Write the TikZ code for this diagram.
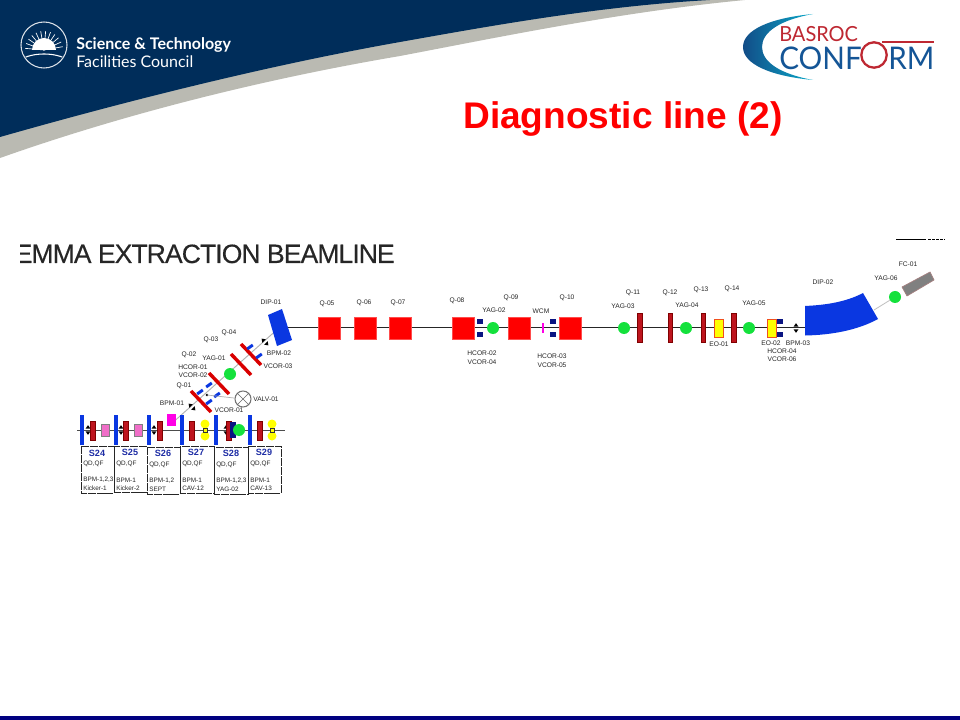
\documentclass[tikz,border=0pt]{standalone}
\usepackage{fontspec}
\setmainfont{Liberation Sans}
\newfontfamily\logofont{Lato}
\newfontfamily\headfont[LetterSpace=-3.5,FakeBold=0.25]{Liberation Sans}
\definecolor{stfcnavy}{RGB}{0,45,90}
\definecolor{footnavy}{RGB}{0,0,128}
\definecolor{stfcgrey}{RGB}{186,186,178}
\definecolor{lensred}{RGB}{190,20,30}
\definecolor{kickblue}{RGB}{10,55,225}
\definecolor{corrnavy}{RGB}{10,20,130}
\definecolor{sblue}{RGB}{30,45,165}
\definecolor{yaggreen}{RGB}{20,225,60}
\definecolor{confblue}{RGB}{20,85,150}
\definecolor{confred}{RGB}{190,40,50}
\definecolor{flagpink}{RGB}{255,0,230}
\definecolor{kickpink}{RGB}{240,110,200}
\definecolor{eoyellow}{RGB}{255,255,0}
\definecolor{eoorange}{RGB}{240,80,30}
\tikzset{
	tag/.style={inner sep=0pt,font=\fontsize{5pt}{5.5pt}\selectfont,text=black!85},
	cell/.style={anchor=west,inner sep=0pt,font=\fontsize{4.8pt}{5pt}\selectfont,text=black!85},
	sname/.style={inner sep=0pt,font=\bfseries\fontsize{6.8pt}{8pt}\selectfont,text=sblue},
	quadbox/.style={fill=red,draw=red!70!white,line width=0.3pt},
	bar/.style={fill=lensred,draw=red!50!black,line width=0.3pt},
	sbend/.style={fill=kickblue,draw=none},
	yag/.style={circle,fill=yaggreen,draw=none,minimum size=9pt,inner sep=0pt},
	lens/.style={line width=2.6pt,draw=red!85!black},
	coil/.style={line width=2.2pt,draw=kickblue},
	beam/.style={line width=0.7pt,draw=black!85},
	eobox/.style={fill=eoyellow,draw=eoorange,line width=0.7pt},
	sbox/.style={draw=black!85,line width=0.6pt,dash pattern=on 6pt off 0.7pt},
}
\newcommand{\bpmpair}[3]{
	\begin{scope}[shift={(#1,#2)},rotate=#3]
	\fill[black] (-2.5,-1.3) -- (2.5,-1.3) -- (0,-4.8) -- cycle;
	\fill[black] (-2.5,1.3) -- (2.5,1.3) -- (0,4.8) -- cycle;
	\end{scope}
}
\begin{document}
\begin{tikzpicture}[x=0.75pt,y=0.75pt,yscale=-1,xscale=1]
	\useasboundingbox (0,0) rectangle (960,720);
	\fill[white] (0,0) rectangle (960,720);
	% header swoosh
	\fill[stfcgrey] (0,158) .. controls (130,112) and (270,78) .. (400,56) .. controls (500,37) and (620,12) .. (745,0) -- (0,0) -- cycle;
	\fill[stfcnavy] (0,137) .. controls (130,100) and (270,65) .. (400,42) .. controls (490,26) and (600,6) .. (710,0) -- (0,0) -- cycle;
	\fill[footnavy] (0,716) rectangle (960,720);
	% stfc logo
	\draw[white!85!stfcnavy,line width=0.8pt] (44,45) circle (23);
	\begin{scope}
	\clip (44,45) circle (22);
	\foreach \ang in {-85,-70,...,85} \draw[white,line width=0.5pt] (44,50) -- ++(\ang-90:19);
	\fill[white] (32,50) arc (180:360:12) -- cycle;
	\fill[stfcnavy] (18,52) rectangle (70,54);
	\draw[white,line width=0.8pt] (20,60) .. controls (32,52) and (56,52) .. (68,60);
	\end{scope}
	\node[anchor=west,inner sep=0pt,text=white] (stfcone) at (76,45) {\logofont\bfseries\fontsize{12pt}{14pt}\selectfont Science \& Technology};
	\node[anchor=west,inner sep=0pt,text=white] (stfctwo) at (76,62) {\logofont\fontsize{12pt}{14pt}\selectfont Facilities Council};
	% conform logo
	\shade[left color=confblue!90!black,right color=confblue!50!cyan] (813,14) .. controls (770,18) and (743,30) .. (743,47) .. controls (743,64) and (770,76) .. (813,80) .. controls (780,74) and (762,62) .. (762,47) .. controls (762,32) and (780,20) .. (813,14) -- cycle;
	\node[anchor=base west,inner sep=0pt,text=confred,xscale=0.96] (basroc) at (779,42) {\logofont\fontsize{15.6pt}{17pt}\selectfont BASROC};
	\node[anchor=base west,inner sep=0pt,text=confblue,xscale=0.95] (conf) at (779,70) {\logofont\fontsize{23.4pt}{25pt}\selectfont CONF};
	\node[anchor=base west,inner sep=0pt,text=confblue,xscale=0.95] (rm) at (888,70) {\logofont\fontsize{23.4pt}{25pt}\selectfont RM};
	\draw[confred,line width=1.7pt] (874,55) circle (12.7);
	\draw[confred,line width=1.5pt] (882,42) -- (934,42);
	% titles
	\node[anchor=base west,inner sep=0pt,text=red] (title) at (463,129) {\bfseries\fontsize{27.8pt}{30pt}\selectfont Diagnostic line (2)};
	\begin{scope}
	\clip (20,230) rectangle (420,280);
	\node[anchor=base east,inner sep=0pt,text=black!85] (beamtitle) at (395,263) {\headfont\fontsize{19.9pt}{22pt}\selectfont EMMA EXTRACTION BEAMLINE};
	\end{scope}
	% scale mark
	\draw[black,line width=0.6pt] (896,239) -- (926,239);
	\draw[black,line width=0.6pt,dash pattern=on 2pt off 1pt] (928,239) -- (945,239);
	% beam lines
	\coordinate (lowstart) at (77,430);
	\coordinate (lowend) at (285,430);
	\coordinate (diagstart) at (170,425);
	\coordinate (diagend) at (280,327);
	\coordinate (mainstart) at (280,327);
	\coordinate (mainend) at (810,327);
	\draw[beam,draw=black!70] (lowstart) -- (lowend);
	\draw[draw=black!30,line width=0.7pt] (diagstart) -- (diagend);
	\draw[beam] (mainstart) -- (mainend);
	% sector row
	\foreach \xa/\xb/\ya/\yb/\nm/\tx/\sy/\lna/\lnb in {
		81/114/446/493/S24/97/453/{BPM-1,2,3}/Kicker-1,
		114/147/446/492/S25/130/452/BPM-1/Kicker-2,
		147/180/447/494/S26/163/453/{BPM-1,2}/SEPT,
		180/214/446/493/S27/196/452/BPM-1/CAV-12,
		214/248/447/494/S28/231/453/{BPM-1,2,3}/YAG-02,
		248/281/446/493/S29/264/452/BPM-1/CAV-13}{
		\draw[sbox] (\xa,\ya) rectangle (\xb,\yb);
		\node[sname] (\nm) at (\tx,\sy) {\nm};
		\node[cell] (\nm qd) at (\xa+2,\ya+18) {QD,QF};
		\node[cell] (\nm bpm) at (\xa+2,\ya+34) {\lna};
		\node[cell] (\nm dev) at (\xa+2,\ya+42) {\lnb};
	}
	\foreach \xa in {82,116,149,182,216,250} \fill[sbend] (\xa-2,415) rectangle (\xa+2,445);
	\foreach \xa in {88,121,154,226} \bpmpair{\xa}{430}{0}
	\foreach \xa in {93,126,160,192,229,260} \filldraw[bar] (\xa-2.4,421) rectangle (\xa+2.4,440);
	\foreach \xa in {101,134} \filldraw[fill=kickpink,draw=black!50,line width=0.4pt] (\xa,424) rectangle (\xa+8,436);
	\foreach \xa in {205,272} {
		\fill[eoyellow] (\xa,424) circle (4.5);
		\fill[eoyellow] (\xa,436) circle (4.5);
		\filldraw[fill=eoyellow,draw=black!80,line width=0.5pt] (\xa-2,428) rectangle (\xa+2,432);
	}
	\fill[flagpink] (167,414) rectangle (176,426);
	\fill[corrnavy] (230,422) rectangle (236,438);
	\node[yag] (yagtwo) at (239,430) {};
	% diagonal section
	\draw[lens] (191,391) -- (211,412);
	\draw[lens] (209,373) -- (229,394);
	\draw[lens] (231,354) -- (251,375);
	\draw[lens] (241,344) -- (261,365);
	\foreach \xa/\ya in {200/392,209/385,209/402,217/395,250/347,259/356} \draw[coil] (\xa-2.8,\ya+2) -- (\xa+2.8,\ya-2);
	\node[yag] (yagone) at (230,374) {};
	\bpmpair{192}{407}{-45}
	\bpmpair{265}{342}{-45}
	\node[circle,draw=black!55,fill=white,line width=0.8pt,minimum size=12pt,inner sep=0pt] (valve) at (243,399) {};
	\fill[black] (207,395) circle (1.3);
	\coordinate (valvejoint) at (207,395);
	\draw[draw=black!30,line width=0.5pt] (valvejoint) -- (valve);
	\draw[black!60,line width=0.4pt] (valve.north west) -- (valve.south east) (valve.north east) -- (valve.south west);
	\fill[sbend] (268,315) -- (282,309) -- (292,340) -- (277,346) -- cycle;
	% main line
	\foreach \xa in {318,354,389,452,508,559} \filldraw[quadbox] (\xa,317) rectangle (\xa+22.5,339);
	\foreach \xa in {477,550,777} {
		\fill[corrnavy] (\xa,319) rectangle (\xa+6,324);
		\fill[corrnavy] (\xa,332) rectangle (\xa+6,337);
	}
	\node[yag] (yagtwob) at (493,328) {};
	\fill[flagpink] (542,323) rectangle (544,333);
	\foreach \xa in {624,686,749} \node[yag] (yag\xa) at (\xa,328) {};
	\foreach \xa/\wa in {637/5,668/4,701/4,731/5} \filldraw[bar] (\xa,313) rectangle (\xa+\wa,342);
	\foreach \xa in {714,767} \filldraw[eobox] (\xa,319) rectangle (\xa+9,337);
	\bpmpair{796}{328}{0}
	\fill[sbend] (805,306) -- (805,335.5) .. controls (832,335) and (858,330) .. (878,319) -- (863,293) .. controls (846,302) and (826,305) .. (805,306) -- cycle;
	\node[yag] (yagsix) at (895,297) {};
	\coordinate (dipexit) at (874,310);
	\draw[draw=black!25,line width=0.6pt] (dipexit) -- (yagsix);
	\filldraw[fill=black!50,draw=red!30!black!50,line width=0.5pt] (902,287) -- (930,272) -- (934,280) -- (907,296) -- cycle;
	% labels
	\foreach \tx/\ty/\lb in {
		271/302/DIP-01, 279/353/BPM-02, 278/366/VCOR-03, 229/333/Q-04, 211/340/Q-03,
		214/358/YAG-01, 189/355/Q-02, 193/367/HCOR-01, 193/375/VCOR-02, 184/386/Q-01,
		266/399/VALV-01, 172/403/BPM-01, 229/410/VCOR-01,
		327/304/Q-05, 364/303/Q-06, 398/303/Q-07, 457/301/Q-08, 494/310/YAG-02,
		511/298/Q-09, 541/311/WCM, 567/298/Q-10, 482/353/HCOR-02, 482/362/VCOR-04,
		552/356/HCOR-03, 552/365/VCOR-05,
		633/293/Q-11, 623/306/YAG-03, 670/293/Q-12, 687/305/YAG-04, 701/290/Q-13,
		732/289/Q-14, 754/303/YAG-05, 719/344/EO-01, 771/343/EO-02, 782/351/HCOR-04,
		782/359/VCOR-06, 798/343/BPM-03, 823/282/DIP-02, 886/278/YAG-06, 908/264/FC-01}
		\node[tag] (lab\tx) at (\tx,\ty) {\lb};
\end{tikzpicture}
\end{document}
